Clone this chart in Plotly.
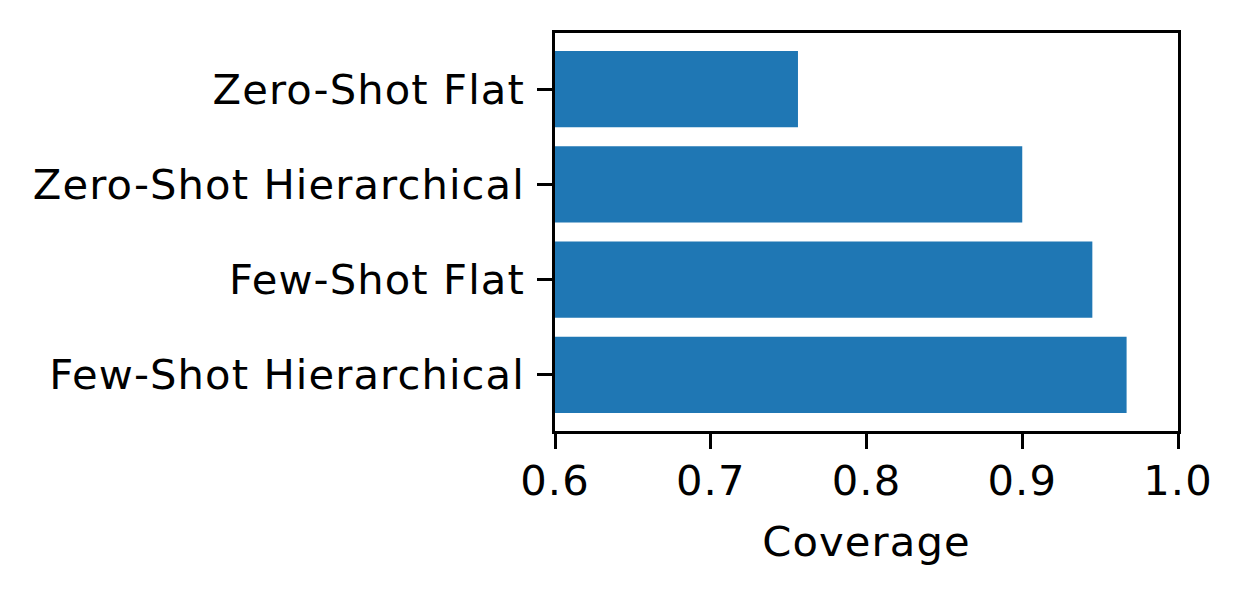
import plotly.graph_objects as go

categories = ["Few-Shot Hierarchical", "Few-Shot Flat", "Zero-Shot Hierarchical", "Zero-Shot Flat"]
coverage = [0.967, 0.945, 0.900, 0.756]
x_ticks = [0.6, 0.7, 0.8, 0.9, 1.0]
x_tick_labels = ["0.6", "0.7", "0.8", "0.9", "1.0"]

FS = 41.67
LW = 3.33

fig = go.Figure()
fig.add_trace(go.Bar(
    x=coverage, y=categories, orientation="h", width=0.8,
    marker=dict(color="#1f77b4", line=dict(width=0)),
))

fig.update_layout(
    width=1246, height=597,
    margin=dict(l=555, r=68, t=33, b=166),
    paper_bgcolor="white", plot_bgcolor="white",
    font=dict(family="DejaVu Sans", size=FS, color="black"),
    showlegend=False,
    bargap=0.2,
)
fig.update_xaxes(
    range=[0.6, 1.0], tickvals=x_ticks, ticktext=x_tick_labels,
    showgrid=False, zeroline=False,
    showline=True, linecolor="black", linewidth=LW, mirror=True,
    ticks="outside", ticklen=14.6, tickwidth=LW, tickcolor="black",
    ticklabelstandoff=-4,
    title=dict(text="Coverage", font=dict(size=FS), standoff=24),
)
fig.update_yaxes(
    type="category", categoryorder="array", categoryarray=categories,
    range=[-0.59, 3.59],
    showgrid=False, zeroline=False,
    showline=True, linecolor="black", linewidth=LW, mirror=True,
    ticks="outside", ticklen=14.6, tickwidth=LW, tickcolor="black",
    ticklabelstandoff=4,
)

fig.write_html(
    "out.html",
    config={"displayModeBar": False},
    post_script=(
        "document.body.style.margin='0px';"
        "document.body.style.overflow='hidden';"
        "document.querySelectorAll('.xtick text, .ytick text, .g-xtitle text')"
        ".forEach(function(t){t.style.letterSpacing='1.1px';});"
    ),
)
